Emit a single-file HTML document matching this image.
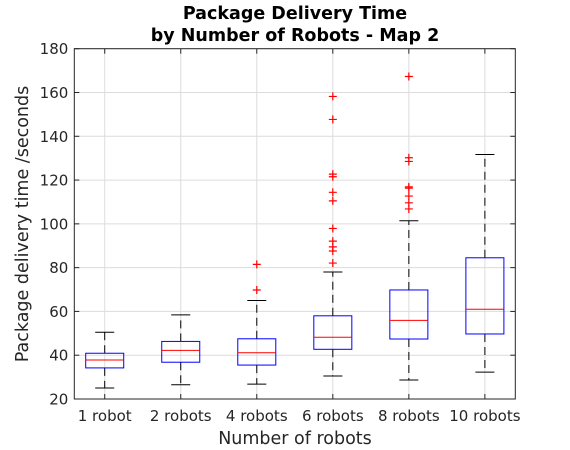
<!DOCTYPE html>
<html><head><meta charset="utf-8"><style>
body{margin:0;background:#fff;}
svg{display:block;font-family:"DejaVu Sans","Liberation Sans",sans-serif;}
</style></head><body>
<svg id="chart" width="570" height="450" viewBox="0 0 570 450">
<text x="295" y="19" text-anchor="middle" font-weight="bold" font-size="17.5" fill="#000">Package Delivery Time</text>
<text x="295" y="41" text-anchor="middle" font-weight="bold" font-size="17.5" fill="#000">by Number of Robots - Map 2</text>
<text x="295" y="444" text-anchor="middle" font-size="17.5" fill="#262626">Number of robots</text>
<text transform="translate(28,224) rotate(-90)" text-anchor="middle" font-size="17.5" fill="#262626">Package delivery time /seconds</text>
<g id="grid"></g><g id="marks"></g><g id="axes"></g>
</svg>
<script>
const categories=["1 robot","2 robots","4 robots","6 robots","8 robots","10 robots"];
const whiskerLow=[25,26.5,26.8,30.5,28.7,32.3];
const q1=[34.2,36.8,35.5,42.7,47.4,49.7];
const medians=[37.8,42.2,41.1,48.2,55.9,61];
const q3=[40.9,46.3,47.5,58,69.8,84.5];
const whiskerHigh=[50.5,58.4,65,78,101.4,131.7];
const outliers=[[],[],[81.5,69.8],[158.2,147.7,122.7,121.5,114.4,110.5,97.9,92.1,89.5,87.6,82.1],[167.3,130.2,128.5,116.9,116.3,112.7,109.6,106.8],[]];
const yTicks=[20,40,60,80,100,120,140,160,180];

const L=74.3,R=515.3,T=48.7,B=399;
const ns="http://www.w3.org/2000/svg";
function X(i){return L+(i+1-0.6)*(R-L)/5.8;}
function Y(v){return B-(v-20)*(B-T)/160;}
function mk(tag,attrs,parent){const e=document.createElementNS(ns,tag);for(const k in attrs)e.setAttribute(k,attrs[k]);document.getElementById(parent).appendChild(e);return e;}
yTicks.forEach(t=>{
 const g=mk("line",{x1:L,x2:R,y1:Y(t),y2:Y(t),stroke:"#dcdcdc","stroke-width":1},"grid");
 
 
 const tk=mk("line",{x1:L,x2:L+5,y1:Y(t),y2:Y(t),stroke:"#262626"},"axes");
 
 
 const tk2=mk("line",{x1:R,x2:R-5,y1:Y(t),y2:Y(t),stroke:"#262626"},"axes");
 
 
 const lb=mk("text",{x:L-6,y:Y(t)+5.5,"text-anchor":"end","font-size":15,fill:"#262626"},"axes");
 lb.textContent=t;
 
 
});
categories.forEach((c,i)=>{
 const x=X(i);
 const g=mk("line",{x1:x,x2:x,y1:T,y2:B,stroke:"#dcdcdc"},"grid");
 
 
 const tk=mk("line",{x1:x,x2:x,y1:B,y2:B-5,stroke:"#262626"},"axes");
 
 
 const tk2=mk("line",{x1:x,x2:x,y1:T,y2:T+5,stroke:"#262626"},"axes");
 
 
 const lb=mk("text",{x:x,y:B+22,"text-anchor":"middle","font-size":15,fill:"#262626"},"axes");
 lb.textContent=c;
 
 
 const hw=(R-L)/5.8*0.25, cw=hw*0.5;
 const w1=mk("line",{x1:x,x2:x,y1:Y(q3[i]),y2:Y(whiskerHigh[i]),stroke:"#000","stroke-dasharray":"8,5"},"marks");
 
 
 const w2=mk("line",{x1:x,x2:x,y1:Y(q1[i]),y2:Y(whiskerLow[i]),stroke:"#000","stroke-dasharray":"8,5"},"marks");
 
 
 const c1=mk("line",{x1:x-cw,x2:x+cw,y1:Y(whiskerHigh[i]),y2:Y(whiskerHigh[i]),stroke:"#000"},"marks");
 
 
 const c2=mk("line",{x1:x-cw,x2:x+cw,y1:Y(whiskerLow[i]),y2:Y(whiskerLow[i]),stroke:"#000"},"marks");
 
 
 const bx=mk("rect",{x:x-hw,y:Y(q3[i]),width:2*hw,height:Y(q1[i])-Y(q3[i]),fill:"none",stroke:"#0000ff"},"marks");
 
 
 const md=mk("line",{x1:x-hw,x2:x+hw,y1:Y(medians[i]),y2:Y(medians[i]),stroke:"#ff0000"},"marks");
 
 
 outliers[i].forEach(v=>{
  const p=mk("path",{d:`M${x-4},${Y(v)}h8M${x},${Y(v)-4}v8`,stroke:"#ff0000","stroke-width":1.2},"marks");
  
  
 });
});
const fr=mk("rect",{x:L,y:T,width:R-L,height:B-T,fill:"none",stroke:"#262626"},"axes");


</script>
</body></html>
